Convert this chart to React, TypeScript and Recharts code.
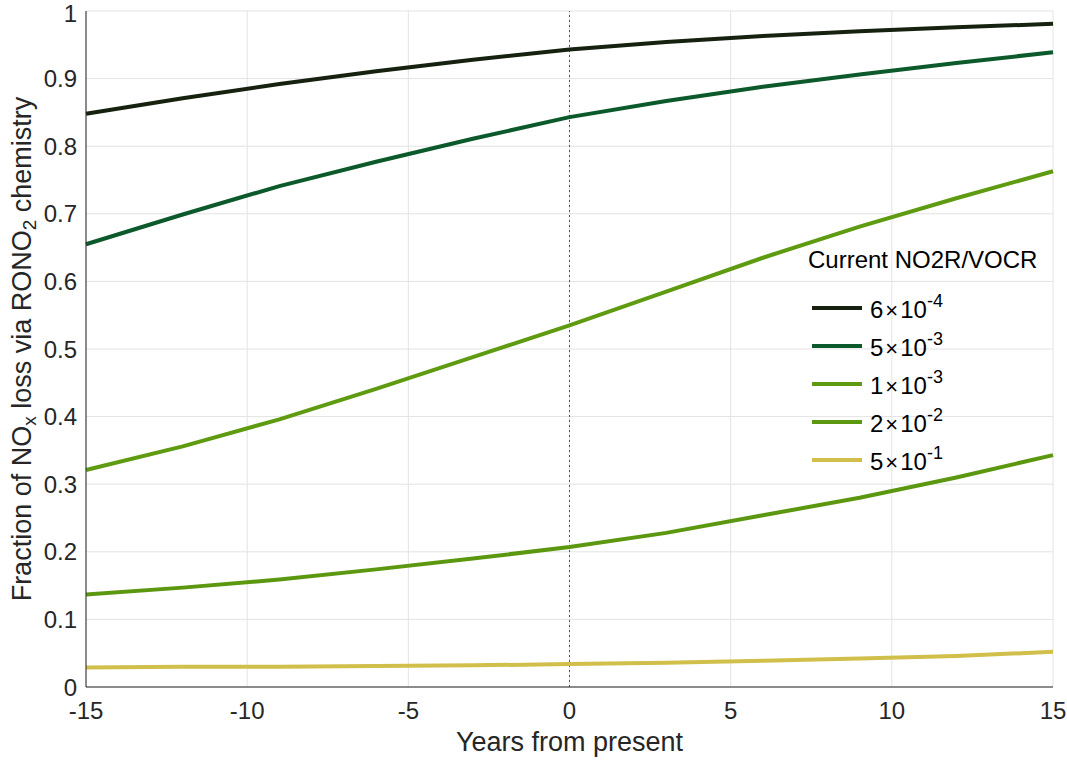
import React from 'react';
import {
  LineChart, Line, XAxis, YAxis, CartesianGrid, ReferenceLine, Label,
} from 'recharts';

const years = [-15, -12, -9, -6, -3, 0, 3, 6, 9, 12, 15];
const ratio6e4 = [0.848, 0.871, 0.892, 0.911, 0.928, 0.943, 0.954, 0.963, 0.970, 0.976, 0.981];
const ratio5e3 = [0.655, 0.699, 0.741, 0.777, 0.811, 0.843, 0.867, 0.888, 0.906, 0.923, 0.939];
const ratio1e3 = [0.321, 0.356, 0.396, 0.441, 0.488, 0.535, 0.585, 0.635, 0.681, 0.723, 0.763];
const ratio2e2 = [0.137, 0.147, 0.159, 0.174, 0.190, 0.207, 0.228, 0.254, 0.280, 0.310, 0.343];
const ratio5e1 = [0.029, 0.030, 0.030, 0.031, 0.032, 0.034, 0.036, 0.039, 0.042, 0.046, 0.052];

const xTicks = [-15, -10, -5, 0, 5, 10, 15];
const yTicks = [0, 0.1, 0.2, 0.3, 0.4, 0.5, 0.6, 0.7, 0.8, 0.9, 1];

const series = [
  { key: 'r6e4', values: ratio6e4, mant: '6', exp: '-4', color: '#16220f' },
  { key: 'r5e3', values: ratio5e3, mant: '5', exp: '-3', color: '#0c5a2b' },
  { key: 'r1e3', values: ratio1e3, mant: '1', exp: '-3', color: '#5f9b11' },
  { key: 'r2e2', values: ratio2e2, mant: '2', exp: '-2', color: '#5c9710' },
  { key: 'r5e1', values: ratio5e1, mant: '5', exp: '-1', color: '#d0bf4a' },
];

const data = years.map((year, i) => {
  const row: any = { year };
  series.forEach(s => { row[s.key] = s.values[i]; });
  return row;
});

const FONT = '"Liberation Sans", Arial, Helvetica, sans-serif';
const TEXT = '#262626';
const FS = 24;
const LABEL_FS = 27;

const YLabel = ({ viewBox }: any) => {
  const cx = 22;
  const cy = viewBox.y + viewBox.height / 2;
  return (
    <text
      x={cx}
      y={cy}
      transform={`rotate(-90, ${cx}, ${cy})`}
      textAnchor="middle"
      dominantBaseline="central"
      fontSize={LABEL_FS}
      fontFamily={FONT}
      fill={TEXT}
    >
      Fraction of NO<tspan fontSize={19} dy={7}>x</tspan>
      <tspan dy={-7}> loss via RONO</tspan>
      <tspan fontSize={19} dy={7}>2</tspan>
      <tspan dy={-7}> chemistry</tspan>
    </text>
  );
};

// legend drawn as an overlay, MATLAB-style with no box
const LegendBox = () => (
  <div style={{
    position: 'absolute', left: 808, top: 248, width: 250,
    fontFamily: FONT, color: '#000', fontSize: FS, lineHeight: 1,
  }}>
    <div style={{ marginBottom: 17 }}>Current NO2R/VOCR</div>
    {series.map(s => (
      <div key={s.key} style={{ display: 'flex', alignItems: 'center', height: 38 }}>
        <div style={{ width: 50, height: 4, background: s.color, marginLeft: 4, marginRight: 8 }} />
        <span style={{ fontSize: FS, position: 'relative', top: 2 }}>
          {s.mant}
          <span style={{ fontSize: 22, margin: '0 2px', fontWeight: 300 }}>×</span>
          10<span style={{ fontSize: 18, position: 'relative', top: -11 }}>{s.exp}</span>
        </span>
      </div>
    ))}
  </div>
);

export default function App() {
  return (
    <div style={{ position: 'absolute', left: 0, top: 0, width: 1067, height: 760, background: '#fff' }}>
      <LineChart
        width={1067}
        height={760}
        data={data}
        margin={{ top: 11, right: 14, bottom: 43, left: 26 }}
      >
        <CartesianGrid stroke="#e3e3e3" strokeWidth={1} />
        <XAxis
          dataKey="year"
          type="number"
          domain={[-15, 15]}
          ticks={xTicks}
          height={30}
          axisLine={{ stroke: '#262626', strokeWidth: 1 }}
          tickLine={false}
          tickSize={6}
          tickMargin={9}
          tick={{ fill: TEXT, fontSize: FS, fontFamily: FONT }}
        >
          <Label
            value="Years from present"
            position="bottom"
            offset={15}
            style={{ fill: TEXT, fontSize: LABEL_FS, fontFamily: FONT }}
          />
        </XAxis>
        <YAxis
          type="number"
          domain={[0, 1]}
          ticks={yTicks}
          width={60}
          axisLine={{ stroke: '#262626', strokeWidth: 1 }}
          tickLine={false}
          tickSize={6}
          tickMargin={3}
          tickFormatter={(v: number) => String(Number(v.toFixed(1)))}
          tick={{ fill: TEXT, fontSize: FS, fontFamily: FONT }}
        >
          <Label content={<YLabel />} />
        </YAxis>
        <ReferenceLine x={0} stroke="#555" strokeWidth={1} strokeDasharray="2 3" />
        {series.map(s => (
          <Line
            key={s.key}
            dataKey={s.key}
            type="linear"
            stroke={s.color}
            strokeWidth={4}
            dot={false}
            activeDot={false}
            isAnimationActive={false}
          />
        ))}
      </LineChart>
      <LegendBox />
    </div>
  );
}
